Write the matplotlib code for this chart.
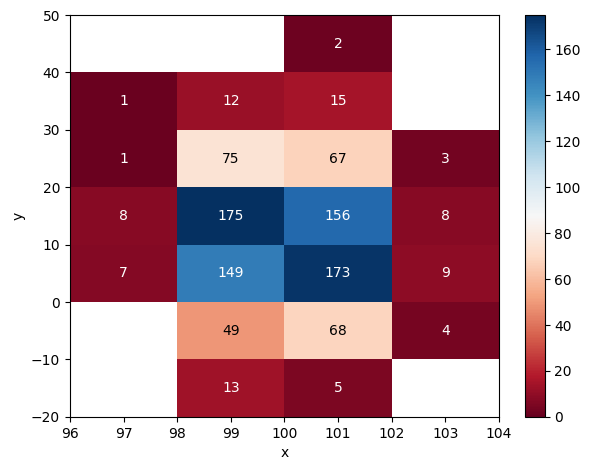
import numpy as np
import matplotlib
matplotlib.use("Agg")
import matplotlib.pyplot as plt

x_edges = [96, 98, 100, 102, 104]
y_edges = [-20, -10, 0, 10, 20, 30, 40, 50]
# counts[row=y bin, col=x bin]
counts = np.array([
    [0, 13, 5, 0],
    [0, 49, 68, 4],
    [7, 149, 173, 9],
    [8, 175, 156, 8],
    [1, 75, 67, 3],
    [1, 12, 15, 0],
    [0, 0, 2, 0],
])

fig = plt.figure(figsize=(5.92, 4.70), dpi=100)
ax = fig.add_axes([0.118, 0.113, 0.725, 0.855])
cax = fig.add_axes([0.887, 0.113, 0.033, 0.855])

masked = np.ma.masked_equal(counts, 0)
mesh = ax.pcolormesh(x_edges, y_edges, masked, cmap="RdBu", vmin=0, vmax=175)
cb = fig.colorbar(mesh, cax=cax)
cb.set_ticks(np.arange(0, 161, 20))

for i in range(len(y_edges) - 1):
    for j in range(len(x_edges) - 1):
        v = counts[i, j]
        if v == 0:
            continue
        xc = (x_edges[j] + x_edges[j + 1]) / 2
        yc = (y_edges[i] + y_edges[i + 1]) / 2
        color = "black" if 40 <= v <= 100 else "white"
        ax.text(xc, yc, str(v), ha="center", va="center", color=color, fontsize=10)

ax.set_xlim(96, 104)
ax.set_ylim(-20, 50)
ax.set_xticks(np.arange(96, 105, 1))
ax.set_yticks(np.arange(-20, 51, 10))
ax.set_xlabel("x")
ax.set_ylabel("y")

fig.savefig("out.png", dpi=100)
